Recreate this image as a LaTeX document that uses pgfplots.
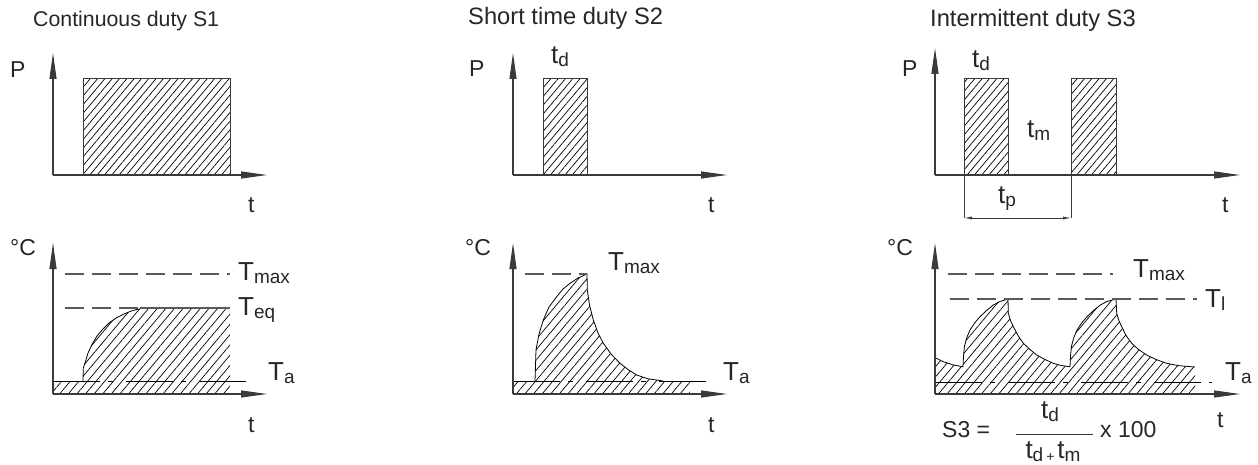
\documentclass[border=0pt]{standalone}
\usepackage{fontspec}
\setmainfont{Liberation Sans}
\usepackage{pgfplots}
\pgfplotsset{compat=1.18}
\usetikzlibrary{patterns.meta,arrows.meta}
\definecolor{ax}{HTML}{3A3A3A}
\definecolor{dsh}{HTML}{5A5A5A}
\definecolor{txt}{HTML}{262626}
\newcommand\sub[1]{\raisebox{-3pt}{\fontsize{19}{19}\selectfont #1}}
\tikzset{
  axisline/.style={ax, line width=1.1pt, -{Triangle[length=26pt,width=7pt]}},
  hatchA/.style={draw=none, pattern={Lines[angle=50,distance=5.6pt,line width=0.7pt]}, pattern color=black},
  hatchB/.style={draw=none, pattern={Lines[angle=50,distance=6.6pt,line width=0.7pt]}, pattern color=black},
  rectline/.style={ax, line width=1pt},
  curve/.style={black, line width=0.8pt},
  tdash/.style={dsh, line width=1.1pt, dash pattern=on 19pt off 8pt},
  taline/.style={black, line width=0.9pt, dash pattern=on 47pt off 8pt on 5pt off 13pt},
  lbl/.style={txt, font=\fontsize{23}{23}\selectfont, inner sep=0pt, anchor=base west},
  tl/.style={txt, font=\fontsize{26}{26}\selectfont, inner sep=0pt, anchor=base west},
  ttlA/.style={txt, font=\fontsize{21.3}{21.3}\selectfont, inner sep=0pt, anchor=base west},
  ttlB/.style={txt, font=\fontsize{23.7}{23.7}\selectfont, inner sep=0pt, anchor=base west},
}
\begin{document}
\begin{tikzpicture}
\begin{axis}[scale only axis, width=1258pt, height=465pt,
  xmin=0, xmax=1258, ymin=0, ymax=465, y dir=reverse,
  hide axis, clip=false]
%% ---------------- Panel 1 top: S1 ----------------
\addplot[hatchA] coordinates {(83,175)(83,79)(230,79)(230,175)} -- cycle;
\addplot[rectline] coordinates {(83,175)(83,79)(230,79)(230,175)};
\addplot[axisline] coordinates {(53,175)(53,53)};
\addplot[axisline] coordinates {(53,175)(267,175)};
\node[ttlA] at (33,27) {Continuous duty S1};
\node[lbl] at (10,78) {P};
\node[lbl] at (248,212) {t};
%% ---------------- Panel 1 bottom ----------------
\addplot[hatchB] coordinates {(53,394)(53,381)(83,381)(83.3,368)(85.3,362.1)(88,353)(92,344.5)(97,336)(102.6,329.4)(109,323)(116.5,317.8)(124,314)(132.6,310.5)(141,308.6)(150,308)(230,308)(230,394)} -- cycle;
\addplot[curve] coordinates {(83,381)(83.3,368)(85.3,362.1)(88,353)(92,344.5)(97,336)(102.6,329.4)(109,323)(116.5,317.8)(124,314)(132.6,310.5)(141,308.6)(150,308)};
\addplot[tdash] coordinates {(65,274)(230,274)};
\addplot[tdash] coordinates {(65,308)(150,308)};
\addplot[dsh, line width=1.1pt] coordinates {(140,308)(230,308)};
\addplot[taline] coordinates {(53,381)(250,381)};
\addplot[axisline] coordinates {(53,394)(53,243)};
\addplot[axisline] coordinates {(53,394)(267,394)};
\node[lbl] at (10,255) {\textdegree C};
\node[tl] at (238,280) {T\sub{max}};
\node[tl] at (238,315) {T\sub{eq}};
\node[tl] at (268,380) {T\sub{a}};
\node[lbl] at (248,432) {t};
%% ---------------- Panel 2 top: S2 ----------------
\addplot[hatchA] coordinates {(543,175)(543,79)(587,79)(587,175)} -- cycle;
\addplot[rectline] coordinates {(543,175)(543,79)(587,79)(587,175)};
\addplot[axisline] coordinates {(513,175)(513,53)};
\addplot[axisline] coordinates {(513,175)(727,175)};
\node[ttlB] at (468,25) {Short time duty S2};
\node[lbl] at (469,77) {P};
\node[tl] at (551,64) {t\sub{d}};
\node[lbl] at (708,212) {t};
%% ---------------- Panel 2 bottom ----------------
\addplot[hatchB] coordinates {(513,394)(513,381)(535,381)(536,350)(539,334)(543.3,320)(549,307)(556.7,296.7)(563,289)(570,283.3)(578,278)(587,274)(587.3,290)(589.5,305)(593.3,320)(598,333)(603.3,343.3)(611,354)(620,363.3)(628,369.5)(636.7,375)(648,378.8)(663,381)(690,381)(690,394)} -- cycle;
\addplot[curve] coordinates {(535,381)(536,350)(539,334)(543.3,320)(549,307)(556.7,296.7)(563,289)(570,283.3)(578,278)(587,274)(587.3,290)(589.5,305)(593.3,320)(598,333)(603.3,343.3)(611,354)(620,363.3)(628,369.5)(636.7,375)(648,378.8)(663,381)};
\addplot[tdash] coordinates {(525,274)(587,274)};
\addplot[taline] coordinates {(513,381)(710,381)};
\addplot[axisline] coordinates {(513,394)(513,243)};
\addplot[axisline] coordinates {(513,394)(727,394)};
\node[lbl] at (465,255) {\textdegree C};
\node[tl] at (608,270) {T\sub{max}};
\node[tl] at (723,380) {T\sub{a}};
\node[lbl] at (708,432) {t};
%% ---------------- Panel 3 top: S3 ----------------
\addplot[hatchA] coordinates {(964,175)(964,79)(1008,79)(1008,175)} -- cycle;
\addplot[hatchA] coordinates {(1071,175)(1071,79)(1116,79)(1116,175)} -- cycle;
\addplot[rectline] coordinates {(964,218)(964,79)(1008,79)(1008,175)};
\addplot[rectline] coordinates {(1071,218)(1071,79)(1116,79)(1116,175)};
\addplot[ax, line width=0.8pt, {Latex[length=8pt,width=3pt]}-{Latex[length=8pt,width=3pt]}] coordinates {(964,218)(1071,218)};
\addplot[axisline] coordinates {(935,175)(935,48)};
\addplot[axisline] coordinates {(935,175)(1240,175)};
\node[ttlB] at (930,27) {Intermittent duty S3};
\node[lbl] at (902,77) {P};
\node[tl] at (972,68) {t\sub{d}};
\node[tl] at (1027,138) {t\sub{m}};
\node[tl] at (998,204) {t\sub{p}};
\node[lbl] at (1222,212) {t};
%% ---------------- Panel 3 bottom ----------------
\addplot[hatchB] coordinates {(935,394)(935,357.7)(943.3,361.7)(953.3,365)(963,366.7)(963.5,356)(964.5,346)(967,337)(970,330)(975,322.5)(980,316.7)(986,311)(993.3,305)(1000,301.5)(1008,299)(1008.3,313.3)(1010.5,320.5)(1013.3,326.7)(1018,335.5)(1023.3,343.3)(1030,349.5)(1036.7,355)(1045,359.5)(1053.3,363.3)(1061,365.5)(1070,366.7)(1070.5,356)(1071.5,346)(1074,337)(1077,330)(1082,322.5)(1087,316.7)(1093,311)(1100.3,305)(1107,301.5)(1116,299)(1116.7,313.3)(1118.8,320.5)(1121.7,326.7)(1126,335.5)(1131.7,343.3)(1138.5,349.5)(1146.7,355)(1156,359.5)(1166.7,363.3)(1179,365.7)(1195,367)(1195,394)} -- cycle;
\addplot[curve] coordinates {(935,357.7)(943.3,361.7)(953.3,365)(963,366.7)(963.5,356)(964.5,346)(967,337)(970,330)(975,322.5)(980,316.7)(986,311)(993.3,305)(1000,301.5)(1008,299)(1008.3,313.3)(1010.5,320.5)(1013.3,326.7)(1018,335.5)(1023.3,343.3)(1030,349.5)(1036.7,355)(1045,359.5)(1053.3,363.3)(1061,365.5)(1070,366.7)(1070.5,356)(1071.5,346)(1074,337)(1077,330)(1082,322.5)(1087,316.7)(1093,311)(1100.3,305)(1107,301.5)(1116,299)(1116.7,313.3)(1118.8,320.5)(1121.7,326.7)(1126,335.5)(1131.7,343.3)(1138.5,349.5)(1146.7,355)(1156,359.5)(1166.7,363.3)(1179,365.7)(1195,367)};
\addplot[tdash] coordinates {(948,274)(1113,274)};
\addplot[tdash] coordinates {(950,299)(1197,299)};
\addplot[taline] coordinates {(935,382)(1212,382)};
\addplot[axisline] coordinates {(935,394)(935,243)};
\addplot[axisline] coordinates {(935,394)(1240,394)};
\node[lbl] at (887,255) {\textdegree C};
\node[tl] at (1133,277) {T\sub{max}};
\node[tl] at (1205,307) {T\sub{l}};
\node[tl] at (1225,380) {T\sub{a}};
\node[lbl] at (1217,427) {t};
\node[lbl] at (942,437) {S3 =};
\node[tl, anchor=base] at (1050,418) {t\sub{d}};
\addplot[ax, line width=1pt] coordinates {(1016,434)(1093,434)};
\node[tl, anchor=base] at (1053,458) {t\sub{d}\hspace{3pt}\raisebox{-3pt}{\fontsize{14}{14}\selectfont +}\hspace{3pt}t\sub{m}};
\node[lbl] at (1100,437) {x 100};
\end{axis}
\pgfresetboundingbox
\path[use as bounding box] (0,0) rectangle (1258pt,465pt);
\end{tikzpicture}
\end{document}
